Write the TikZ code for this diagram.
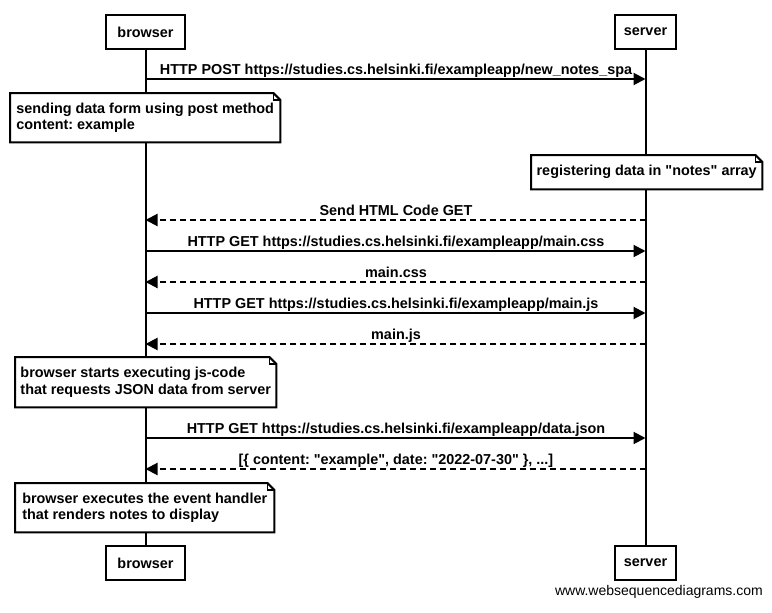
\documentclass[tikz,border=0pt]{standalone}
\usepackage{fontspec}
\setmainfont{Liberation Sans}
\usetikzlibrary{arrows.meta}
\frenchspacing
\newcommand{\dq}{\XeTeXglyph\XeTeXcharglyph"22\relax}
\begin{document}
\begin{tikzpicture}[x=1pt,y=-1pt,
  font=\fontsize{14.4}{16.5}\selectfont\bfseries,
  actor/.style={draw, line width=2pt, fill=white, minimum height=34pt, inner sep=0pt},
  life/.style={line width=2pt},
  msg/.style={line width=2pt, -{Triangle[length=12pt,width=12pt]}},
  reply/.style={msg, dash pattern=on 6pt off 4pt},
  lbl/.style={anchor=base, inner sep=0pt},
  note/.style={fill=white, inner xsep=0pt, inner ysep=0pt, anchor=north west, align=left},
  outline/.style={line width=2pt, line join=miter},
]
\useasboundingbox (0,0) rectangle (772,613);
\fill[white] (0,0) rectangle (772,613);

% actors
\node[actor, minimum width=79pt] (b1) at (145.5,32) {browser};
\node[actor, minimum width=61pt] (s1) at (645.5,32) {server};
\node[actor, minimum width=79pt] (b2) at (145.5,563) {browser};
\node[actor, minimum width=61pt] (s2) at (645.5,563) {server};

% lifelines
\draw[life] (b1) -- (b2);
\draw[life] (s1) -- (s2);

% messages
\draw[msg] (b1 |- 0,79) -- (s1 |- 0,79);
\node[lbl] (m1) at (396,74) {HTTP POST https://studies.cs.helsinki.fi/exampleapp/new\_notes\_spa};

\draw[reply] (s1 |- 0,220) -- (b1 |- 0,220);
\node[lbl] (m2) at (396,215) {Send HTML Code GET};

\draw[msg] (b1 |- 0,251) -- (s1 |- 0,251);
\node[lbl] (m3) at (396,246) {HTTP GET https://studies.cs.helsinki.fi/exampleapp/main.css};

\draw[reply] (s1 |- 0,282) -- (b1 |- 0,282);
\node[lbl] (m4) at (396,277) {main.css};

\draw[msg] (b1 |- 0,313) -- (s1 |- 0,313);
\node[lbl] (m5) at (396,308) {HTTP GET https://studies.cs.helsinki.fi/exampleapp/main.js};

\draw[reply] (s1 |- 0,344) -- (b1 |- 0,344);
\node[lbl] (m6) at (396,339) {main.js};

\draw[msg] (b1 |- 0,438) -- (s1 |- 0,438);
\node[lbl] (m7) at (396,433) {HTTP GET https://studies.cs.helsinki.fi/exampleapp/data.json};

\draw[reply] (s1 |- 0,469) -- (b1 |- 0,469);
\node[lbl] (m8) at (396,464) {[\{ content: \dq example\dq, date: \dq 2022-07-30\dq\ \}, ...]};

% notes
\node[note, minimum width=270pt, minimum height=49pt] (n1) at (10,93)
  {sending data form using post method\\content: example};
\node[note, minimum width=231pt, minimum height=34pt] (n2) at (531,155)
  {registering data in \dq notes\dq\ array};
\node[note, minimum width=261pt, minimum height=50pt] (n3) at (15,357)
  {browser starts executing js-code\\that requests JSON data from server};
\node[note, minimum width=259pt, minimum height=49pt] (n4) at (15,483)
  {browser executes the event handler\\that renders notes to display};

\foreach \n in {n1,n2,n3,n4}{
  \draw[outline] (\n.north west) -- ([xshift=-7pt]\n.north east) -- ([yshift=-7pt]\n.north east)
    -- (\n.south east) -- (\n.south west) -- cycle;
  \draw[line width=1.5pt] ([xshift=-7pt]\n.north east) -- ++(0,7) -- ++(7,0);
}

% footer
\node[anchor=base east, inner sep=0pt, font=\fontsize{14}{16}\selectfont\mdseries] (ft) at (763,595.5) {www.websequencediagrams.com};
\end{tikzpicture}
\end{document}
